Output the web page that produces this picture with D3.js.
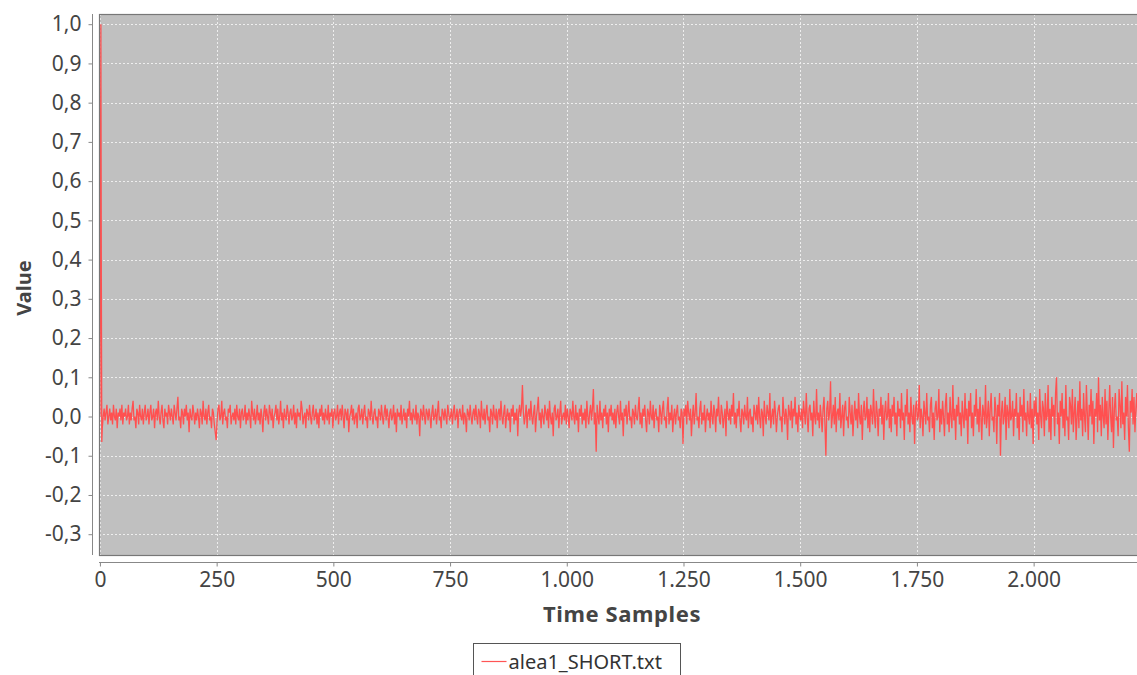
<!DOCTYPE html>
<html>
<head>
<meta charset="utf-8">
<script src="https://cdn.jsdelivr.net/npm/d3@7"></script>
<style>
	body { margin: 0; background: #fff; overflow: hidden; }
	svg text { font-family: "Noto Sans", "DejaVu Sans", sans-serif; }
</style>
</head>
<body>
<div id="chart"></div>
<script>
// start of the signal, sample by sample
var spikeSamples = [0, 1, 2, 3, 4];
var spikeValues = [0.0, 0.48, 1.0, 0.35, -0.065];

// rest of the signal, one reading every 2 samples from sample 5 (one row = 50 samples)
var noiseStart = 5, noiseStep = 2;
var noiseValues = [
	-.03,.00,.02,-.01,.01,.03,-.02,.00,.02,-.01,.01,-.02,.03,.00,-.01,.02,-.03,.01,.00,.02,-.01,.03,-.02,.01,.00,
	.02,-.01,.00,.03,-.02,.01,-.01,.02,.04,-.01,.00,-.03,.02,.01,-.02,.03,.00,-.01,.02,-.02,.01,.03,-.01,.00,.02,
	-.02,.01,.03,-.01,.00,.02,-.03,.01,.02,-.01,.04,.00,-.02,.01,.03,-.01,-.03,.02,.00,.01,-.02,.03,.01,-.01,.02,
	.00,-.02,.03,.01,-.01,.02,.05,-.01,.00,-.03,.02,.01,-.02,.02,.00,.03,-.01,.01,-.04,.02,.00,-.01,.03,.01,-.02,
	.01,-.01,.02,.00,-.03,.02,.01,-.02,.04,.00,-.01,.02,-.02,.01,.03,-.01,.00,-.03,.02,.01,-.02,-.04,-.06,-.01,.02,
	.03,-.01,.00,.04,-.02,.01,.02,-.01,.00,-.03,.02,.01,.03,-.02,.00,.01,-.01,.02,-.02,.03,.00,-.01,.02,-.03,.01,
	.02,-.01,.00,.03,-.02,.01,-.01,.02,.00,-.03,.04,.01,-.01,.02,-.02,.00,.03,-.01,.01,-.02,.02,.00,-.04,.01,.03,
	-.01,.02,.00,-.02,.03,.01,-.01,.02,-.03,.00,.01,.03,-.01,.02,-.02,.00,.04,-.01,.01,-.03,.02,.00,-.01,.03,.01,
	-.02,.01,.02,-.01,.00,.03,-.02,.01,-.03,.02,.00,.01,-.01,.04,.02,-.02,.00,.01,-.03,.02,.01,-.01,.03,.00,-.02,
	.01,.03,-.01,.00,.02,-.02,.01,-.03,.02,.00,.03,-.01,.01,-.02,.02,.00,-.01,.03,-.02,.01,.00,.02,-.03,.01,.02,
	-.01,.00,.03,-.02,.01,.02,-.01,.03,.00,-.03,.02,.01,-.01,.02,-.04,.00,.01,.03,-.01,.02,-.02,.00,.01,-.03,.02,
	.03,-.01,.00,.02,-.02,.01,.03,-.01,.00,-.03,.02,.01,-.01,.04,.00,-.02,.01,.02,-.01,.00,-.03,.02,.01,-.01,.03,
	.00,-.02,.01,.03,-.01,.02,.00,-.03,.01,.02,-.01,.00,.03,-.02,.01,-.04,.02,.00,.01,-.01,.03,-.02,.00,.02,-.01,
	.01,-.03,.02,.00,.04,-.01,.01,-.02,.02,.00,-.01,.03,-.02,.01,.00,-.05,.02,.01,-.01,.03,.00,-.02,.02,.01,-.01,
	.02,.00,-.03,.01,.03,-.01,.00,.02,-.02,.01,.04,-.01,.00,-.03,.02,.01,-.01,.02,.00,-.02,.03,.01,-.01,.00,.02,
	-.02,.01,.03,-.01,.00,.02,-.03,.01,.02,.00,-.01,.03,-.02,.01,.00,-.04,.02,.01,-.01,.03,.00,-.02,.01,.02,-.01,
	.03,.00,-.02,.02,.01,-.03,.04,.00,-.01,.02,-.02,.01,.03,-.01,.00,-.04,.02,.01,-.02,.03,.00,-.01,.02,-.03,.01,
	.02,-.01,.04,.00,-.02,.01,.03,-.03,.00,.02,-.01,.01,-.04,.02,.00,.03,-.02,.01,-.01,.02,-.05,.01,.03,.00,.02,
	.08,.01,-.02,.00,.03,-.03,.01,.02,-.01,.04,.00,-.02,.01,.03,-.04,.00,.02,.05,-.01,.01,-.03,.02,.00,-.02,.03,
	.01,-.01,.02,-.03,.04,.00,-.02,.01,-.05,.02,.03,-.01,.00,.02,-.03,.01,.04,-.02,.00,.01,-.01,.03,-.02,.02,.00,
	-.03,.02,.01,-.01,.04,.00,-.02,.03,-.01,.01,-.04,.02,.00,.03,-.02,.01,-.01,.02,-.03,.04,.00,-.02,.01,.03,-.01,
	.02,.07,-.02,.01,-.09,.03,.00,-.02,.04,-.01,.01,-.03,.02,.00,.03,-.02,.01,-.04,.02,.00,.03,-.01,.01,-.02,.02,
	-.03,.01,.03,.00,-.02,.04,-.01,.01,-.05,.02,.00,.03,-.02,.01,.04,-.01,.00,-.03,.02,.01,-.02,.03,.00,-.01,.02,
	.05,-.02,.01,-.03,.02,.00,.03,-.01,-.04,.02,.01,-.02,.04,.00,-.01,.03,-.03,.01,.02,-.01,.00,-.04,.03,.01,-.02,
	.02,.04,-.01,.00,-.03,.02,.05,-.02,.01,-.01,.03,-.04,.00,.02,-.02,.01,.03,-.01,.00,-.03,.02,.01,-.07,.02,.00,
	.03,-.02,.04,.01,-.01,.02,-.05,.00,.03,-.02,.01,.06,-.01,.00,-.03,.02,.04,-.02,.01,-.01,.03,-.04,.00,.02,-.01,
	.01,-.03,.04,.00,-.02,.03,.01,-.04,.02,.00,.05,-.01,-.02,.03,.01,-.03,.00,.02,-.05,.04,.01,-.01,.02,-.02,.03,
	.00,.06,-.02,.01,-.03,.02,.00,.04,-.01,-.04,.02,.01,-.02,.03,.00,-.01,.05,-.03,.01,.02,-.02,.00,-.04,.03,.01,
	-.01,.03,-.02,.05,.00,-.03,.02,.01,-.05,.04,.00,-.02,.03,.01,-.01,.06,-.03,.00,.02,-.02,.04,.01,-.04,.00,.02,
	.03,-.01,.00,-.04,.05,.01,-.02,.02,.00,-.06,.03,.01,-.01,.04,-.03,.02,.00,.05,-.02,.01,-.04,.03,.00,-.01,.02,
	-.03,.04,.01,-.02,.06,.00,-.04,.02,.03,-.01,.01,-.05,.04,.00,-.02,.07,-.01,.01,-.03,.03,.00,-.04,.02,.05,-.02,
	-.10,.02,.04,-.01,.01,.09,-.03,.00,.03,-.02,.05,-.04,.01,.02,-.01,.06,-.03,.00,.03,-.05,.02,.04,-.01,.00,-.03,
	.05,.01,-.02,.03,-.05,.00,.04,-.01,.02,-.03,.06,.00,-.02,.03,-.06,.01,.04,-.01,.00,.05,-.03,.02,-.04,.03,.01,
	-.02,.07,.00,-.03,.04,.01,-.05,.02,.00,.05,-.02,.03,-.06,.01,.04,-.01,.00,.06,-.03,.02,-.04,.03,.00,.05,-.02,
	.01,-.05,.04,.00,.02,-.03,.06,-.01,.01,-.06,.03,.00,.07,-.02,.01,-.04,.05,.00,-.02,.03,-.07,.02,.04,-.01,.00,
	.08,-.03,.02,.00,-.05,.04,.01,-.02,.06,-.01,.00,-.04,.03,.05,-.03,.01,-.06,.02,.04,-.01,.00,.07,-.04,.02,-.02,
	.04,.00,-.05,.03,.06,-.02,.01,-.04,.05,.00,-.03,.08,-.01,.02,-.06,.03,.00,.05,-.02,.01,-.05,.04,.00,-.03,.06,
	-.01,.02,-.07,.04,.00,.06,-.03,.01,-.05,.03,.00,.07,-.02,.02,-.04,.05,.00,-.06,.03,.01,-.02,.08,-.03,.00,.04,
	-.05,.02,.06,-.01,.00,-.04,.05,.02,-.07,.03,.00,.06,-.10,.01,.04,-.02,.00,.05,-.06,.03,.01,-.03,.07,-.01,.00,
	.04,-.05,.02,.00,.06,-.03,.01,-.06,.05,.00,.03,-.04,.07,-.01,.01,-.05,.04,.00,-.02,.06,-.03,.02,-.07,.04,.00,
	.05,-.02,.01,-.06,.07,.00,-.03,.04,.02,-.05,.06,-.01,.00,.08,-.04,.02,-.06,.05,.00,.03,-.05,.06,.10,-.02,.01,
	-.07,.04,.00,.06,-.03,.02,-.05,.08,-.01,.00,-.06,.05,.03,-.02,.07,-.04,.01,.05,-.06,.00,.04,-.03,.09,-.01,.02,
	-.05,.06,.00,-.04,.08,.01,-.06,.03,.00,.07,-.02,.04,-.07,.02,.00,.06,-.04,.10,-.01,.03,-.05,.05,.00,-.03,.07,
	-.02,.04,-.06,.01,.08,.00,-.04,.05,-.08,.02,.06,-.01,.00,-.05,.07,.03,-.03,.09,-.02,.01,-.06,.05,.00,.08,-.03,
	-.09,.04,.01,.07,-.02,.05,-.04,.02,.06,-.01,.03
];

var xTickValues = [0, 250, 500, 750, 1000, 1250, 1500, 1750, 2000];
var yTickValues = [-0.3, -0.2, -0.1, 0.0, 0.1, 0.2, 0.3, 0.4, 0.5, 0.6, 0.7, 0.8, 0.9, 1.0];
var seriesName = "alea1_SHORT.txt";

var width = 1137, height = 675;
var plot = { left: 99, top: 14, right: 1141, bottom: 555 };

var locale = d3.formatLocale({ decimal: ",", thousands: ".", grouping: [3], currency: ["", ""], minus: "-" });

var points = spikeSamples.map(function (s, i) { return [s, spikeValues[i]]; });
noiseValues.forEach(function (v, i) { points.push([noiseStart + i * noiseStep, v]); });

var x = d3.scaleLinear().domain([-2, 2230]).range([plot.left, plot.right]);
var y = d3.scaleLinear().domain([-0.353, 1.026]).range([plot.bottom, plot.top]);

var svg = d3.select("#chart").append("svg")
	.attr("width", width)
	.attr("height", height);

// plot background
svg.append("rect")
	.attr("x", plot.left).attr("y", plot.top)
	.attr("width", plot.right - plot.left).attr("height", plot.bottom - plot.top)
	.attr("fill", "#c0c0c0");

// grid
svg.append("g").selectAll("line.hgrid")
	.data(yTickValues).enter().append("line")
	.attr("x1", plot.left).attr("x2", plot.right)
	.attr("y1", function (d) { return Math.round(y(d)) + 0.5; })
	.attr("y2", function (d) { return Math.round(y(d)) + 0.5; })
	.attr("stroke", "#eeeeee").attr("stroke-dasharray", "2,2");

svg.append("g").selectAll("line.vgrid")
	.data(xTickValues).enter().append("line")
	.attr("y1", plot.top).attr("y2", plot.bottom)
	.attr("x1", function (d) { return Math.round(x(d)) + 0.5; })
	.attr("x2", function (d) { return Math.round(x(d)) + 0.5; })
	.attr("stroke", "#eeeeee").attr("stroke-dasharray", "2,2");

// series
var line = d3.line()
	.x(function (d) { return x(d[0]); })
	.y(function (d) { return y(d[1]); });

svg.append("path")
	.datum(points)
	.attr("d", line)
	.attr("fill", "none")
	.attr("stroke", "#ff5050")
	.attr("stroke-width", 1.3);

// plot outline
svg.append("rect")
	.attr("x", plot.left + 0.5).attr("y", plot.top + 0.5)
	.attr("width", plot.right - plot.left).attr("height", plot.bottom - plot.top)
	.attr("fill", "none")
	.attr("stroke", "#777").attr("stroke-width", 1.2);

// axes
var yAxis = d3.axisLeft(y)
	.tickValues(yTickValues)
	.tickFormat(locale.format(".1f"))
	.tickSize(4).tickPadding(7);

var xAxis = d3.axisBottom(x)
	.tickValues(xTickValues)
	.tickFormat(locale.format(",d"))
	.tickSize(4).tickPadding(6);

var gy = svg.append("g")
	.attr("transform", "translate(92.5,0)")
	.call(yAxis);
gy.select(".domain").attr("d", "M0," + plot.top + "V" + plot.bottom);

var gx = svg.append("g")
	.attr("transform", "translate(0,562.5)")
	.call(xAxis);
gx.select(".domain").attr("d", "M" + plot.left + ",0H" + plot.right);

[gx, gy].forEach(function (g) {
	g.selectAll(".domain, .tick line").attr("stroke", "#888");
	g.selectAll("text")
		.attr("fill", "#444")
		.style("font-size", "21px");
});

// axis titles
svg.append("text")
	.attr("x", 622).attr("y", 622)
	.attr("text-anchor", "middle")
	.attr("fill", "#444")
	.style("font-size", "22px").style("font-weight", "bold")
	.style("letter-spacing", "0.6px")
	.text("Time Samples");

svg.append("text")
	.attr("transform", "translate(31,288) rotate(-90)")
	.attr("text-anchor", "middle")
	.attr("fill", "#444")
	.style("font-size", "20px").style("font-weight", "bold")
	.text("Value");

// legend
var legend = svg.append("g").attr("transform", "translate(473.5,643.5)");
legend.append("rect")
	.attr("width", 207).attr("height", 40)
	.attr("fill", "#fff").attr("stroke", "#555");
legend.append("line")
	.attr("x1", 8).attr("x2", 33).attr("y1", 18).attr("y2", 18)
	.attr("stroke", "#ff5555").attr("stroke-width", 1.2);
legend.append("text")
	.attr("x", 35).attr("y", 25)
	.attr("fill", "#333")
	.style("font-size", "20px")
	.text(seriesName);
</script>
</body>
</html>
